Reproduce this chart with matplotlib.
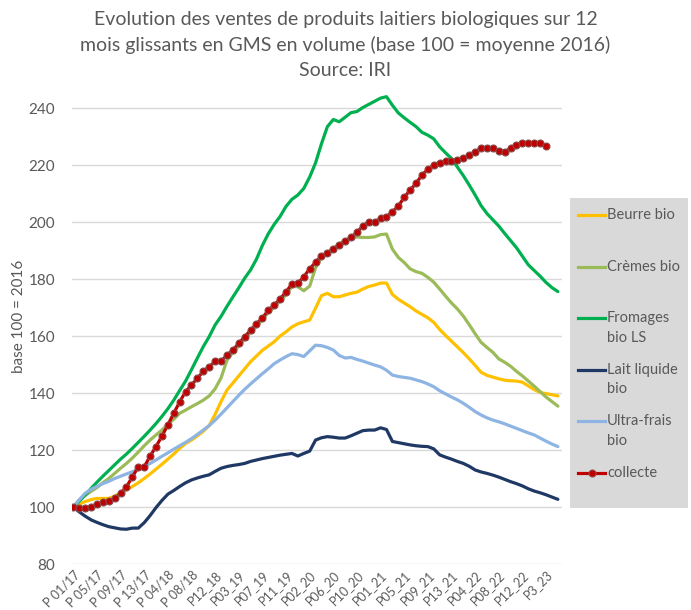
import matplotlib.pyplot as plt
from matplotlib.lines import Line2D
from matplotlib.patches import Rectangle

plt.rcParams['font.family'] = ['Lato', 'DejaVu Sans']

# x-axis: 4-week periods from P01/17 to P05/23, labelled every 4th period
tick_labels = ["P 01/17", "P 05/17", "P 09/17", "P 13/17", "P 04/18", "P 08/18",
               "P12_18", "P03_19", "P07_19", "P11_19", "P02_20", "P06_20", "P10_20",
               "P01_21", "P05_21", "P09_21", "P13_21", "P04_22", "P08_22", "P12_22",
               "P3_23"]

beurre = [100, 101, 101.9, 102.6, 103.0, 103.0, 103.0, 103.8, 105.0, 106.0,
          107.2, 108.5, 110.0, 111.6, 113.3, 115.0, 116.8, 118.6, 120.6, 122.3,
          123.5, 125.0, 126.6, 128.6, 132.5, 137.0, 141.0, 143.5, 146.0, 148.5,
          151.0, 153.0, 155.0, 156.5, 158.0, 160.0, 161.5, 163.2, 164.3, 165.0,
          165.6, 169.8, 174.2, 175.0, 173.8, 173.8, 174.4, 175.0, 175.4, 176.5,
          177.4, 177.9, 178.6, 178.6, 174.6, 172.9, 171.6, 170.3, 168.8, 167.6,
          166.4, 164.8, 162.3, 160.2, 158.2, 156.2, 154.2, 152.0, 149.7, 147.3,
          146.2, 145.6, 145.0, 144.5, 144.3, 144.2, 143.8, 142.5, 141.2, 140.2,
          139.8, 139.4, 139.0]

cremes = [100, 102.5, 104.0, 105.5, 106.8, 108.5, 110.0, 111.8, 113.6, 115.3,
          117.2, 119.3, 121.5, 123.5, 125.3, 127.0, 129.0, 130.8, 132.9, 134.0,
          135.2, 136.3, 137.5, 139.0, 141.5, 145.3, 151.5, 154.3, 156.5, 158.9,
          161.2, 163.5, 165.7, 168.3, 170.2, 172.3, 174.5, 177.4, 177.3, 175.9,
          177.5, 184.0, 187.6, 189.3, 190.8, 192.3, 193.6, 194.4, 194.8, 194.6,
          194.6, 194.8, 195.6, 195.8, 190.5, 187.6, 185.8, 183.6, 182.6, 182.0,
          180.6, 178.9, 176.5, 174.0, 171.6, 169.5, 167.0, 164.0, 160.8, 157.8,
          156.0, 154.3, 152.0, 150.8, 149.4, 147.6, 146.0, 144.2, 142.4, 140.5,
          138.6, 137.0, 135.4]

fromages = [100, 102, 104.2, 106.5, 108.7, 110.8, 112.8, 114.8, 116.8, 118.6,
            120.6, 122.7, 124.8, 127.0, 129.3, 131.8, 134.5, 137.5, 140.9, 144.2,
            148.2, 152.3, 156.3, 159.8, 163.9, 166.9, 170.4, 173.7, 176.9, 180.3,
            183.2, 187.0, 191.8, 195.9, 199.2, 202.0, 205.5, 208.0, 209.5, 211.8,
            215.8, 220.8, 227.5, 233.5, 236.0, 235.2, 236.8, 238.4, 238.8, 240.2,
            241.3, 242.4, 243.5, 244.0, 241.0, 238.3, 236.6, 235.0, 233.5, 231.5,
            230.5, 229.2, 226.4, 224.3, 222.3, 219.3, 216.3, 213.0, 209.5, 205.8,
            203.0, 200.8, 198.6, 196.0, 193.5, 191.0, 188.0, 185.0, 183.0, 181.0,
            178.8, 177.0, 175.6]

lait = [100, 98.3, 96.8, 95.5, 94.6, 93.8, 93.1, 92.7, 92.3, 92.2,
        92.6, 92.6, 94.5, 97.0, 99.8, 102.3, 104.5, 105.8, 107.2, 108.5,
        109.5, 110.2, 110.8, 111.3, 112.5, 113.6, 114.2, 114.6, 114.9, 115.3,
        116.0, 116.5, 117.0, 117.4, 117.8, 118.2, 118.5, 118.8, 117.9, 118.8,
        119.6, 123.5, 124.3, 124.7, 124.5, 124.2, 124.2, 125.0, 125.9, 126.8,
        127.0, 127.0, 127.8, 127.2, 123.0, 122.6, 122.2, 121.8, 121.5, 121.3,
        121.2, 120.4, 118.3, 117.5, 116.8, 116.0, 115.3, 114.3, 113.0, 112.3,
        111.8, 111.2, 110.5, 109.7, 108.9, 108.2, 107.4, 106.4, 105.6, 105.0,
        104.3, 103.5, 102.7]

ultra_frais = [100, 102.5, 104.8, 106.2, 107.2, 108.2, 109.0, 110.0, 110.8, 111.6,
               112.4, 113.2, 114.2, 115.3, 116.5, 117.8, 119.0, 120.3, 121.5, 122.7,
               124.0, 125.5, 127.0, 128.6, 130.5, 132.6, 134.8, 137.0, 139.2, 141.3,
               143.2, 145.0, 146.8, 148.5, 150.3, 151.6, 152.8, 153.8, 153.5, 152.8,
               154.8, 156.8, 156.6, 156.0, 155.1, 153.2, 152.3, 152.5, 151.8, 151.2,
               150.5, 149.8, 149.2, 148.0, 146.3, 145.8, 145.5, 145.2, 144.6, 144.0,
               143.2, 142.2, 140.8, 139.7, 138.6, 137.6, 136.4, 135.0, 133.5, 132.3,
               131.3, 130.5, 129.9, 129.2, 128.4, 127.6, 126.8, 126.0, 125.3, 124.2,
               123.1, 122.1, 121.2]

collecte = [100.1, 99.5, 99.5, 100.1, 101.1, 101.6, 102.2, 103.0, 104.8, 107.1,
            110.6, 114.1, 114.1, 117.9, 121.2, 124.9, 128.8, 132.9, 136.9, 140.5,
            142.8, 145.2, 147.6, 149.2, 151.1, 151.1, 153.3, 155.1, 157.4, 159.8,
            162.0, 164.3, 166.4, 169.0, 170.9, 173.0, 175.5, 178.3, 178.5, 180.8,
            183.6, 185.9, 188.1, 189.1, 190.5, 191.8, 193.2, 194.6, 196.4, 198.6,
            200.1, 200.1, 201.3, 201.9, 203.6, 205.6, 208.7, 211.2, 213.6, 216.5,
            218.5, 220.0, 220.8, 221.4, 221.4, 221.8, 222.4, 223.5, 224.7, 225.9,
            226.1, 226.1, 224.9, 224.7, 225.9, 227.0, 227.6, 227.6, 227.6, 227.8,
            226.8]

series = [
    ("Beurre bio", beurre, "#FFC000"),
    ("Crèmes bio", cremes, "#9BBB59"),
    ("Fromages\nbio LS", fromages, "#00B050"),
    ("Lait liquide\nbio", lait, "#1F3864"),
    ("Ultra-frais\nbio", ultra_frais, "#8DB4E2"),
]
collecte_color = "#C00000"
marker_edge = "#8A4A4A"

grey = "#595959"
W, H = 691, 610

fig = plt.figure(figsize=(W / 100, H / 100), dpi=100)
ax = fig.add_axes([72 / W, 1 - 564 / H, 490 / W, 473 / H])

for name, vals, col in series:
    ax.plot(range(len(vals)), vals, color=col, lw=2.3,
            solid_capstyle="round", solid_joinstyle="round")

ax.plot(range(len(collecte)), collecte, color=collecte_color, lw=2.3,
        marker="o", markersize=5, markerfacecolor=collecte_color,
        markeredgecolor=marker_edge, markeredgewidth=0.8)

ax.set_xlim(-0.22, 82.7)
ax.set_ylim(80, 246)
ax.set_yticks(range(80, 241, 20))
ax.set_xticks(range(0, 81, 4))
ax.set_xticklabels(tick_labels, rotation=45, ha="right", rotation_mode="anchor")
ax.tick_params(axis="both", length=0, colors=grey)
ax.tick_params(axis="x", labelsize=9, pad=3)
ax.tick_params(axis="y", labelsize=11, pad=12)
ax.yaxis.grid(True, color="#D9D9D9", lw=1)
ax.set_axisbelow(True)
for s in ax.spines.values():
    s.set_visible(False)

fig.text(19 / W, 1 - 316 / H, "base 100 = 2016", rotation=90,
         ha="center", va="center", fontsize=11, color=grey)

fig.text(0.5, 1 - 11 / H,
         "Evolution des ventes de produits laitiers biologiques sur 12\n"
         "mois glissants en GMS en volume (base 100 = moyenne 2016)\n"
         "Source: IRI",
         ha="center", va="top", fontsize=14, color=grey, linespacing=1.56)

# legend box drawn on the right, entries at a fixed pitch like the source
fig.add_artist(Rectangle((570 / W, 1 - 508 / H), 118 / W, 310 / H,
                         transform=fig.transFigure, facecolor="#D9D9D9",
                         edgecolor="none"))
entries = [(name, col) for name, _, col in series] + [("collecte", collecte_color)]
for k, (name, col) in enumerate(entries):
    y = 1 - (215 + 51.6 * k) / H
    line = Line2D([578 / W, 605 / W], [y, y], transform=fig.transFigure,
                  color=col, lw=2.3)
    fig.add_artist(line)
    if name == "collecte":
        fig.add_artist(Line2D([591.5 / W], [y], transform=fig.transFigure,
                              marker="o", markersize=5, color=col,
                              markeredgecolor=marker_edge, markeredgewidth=0.8))
    for j, part in enumerate(name.split("\n")):
        fig.text(607 / W, y - j * 19.5 / H, part, ha="left", va="center",
                 fontsize=10.5, color=grey)

fig.savefig("out.png", dpi=100)
